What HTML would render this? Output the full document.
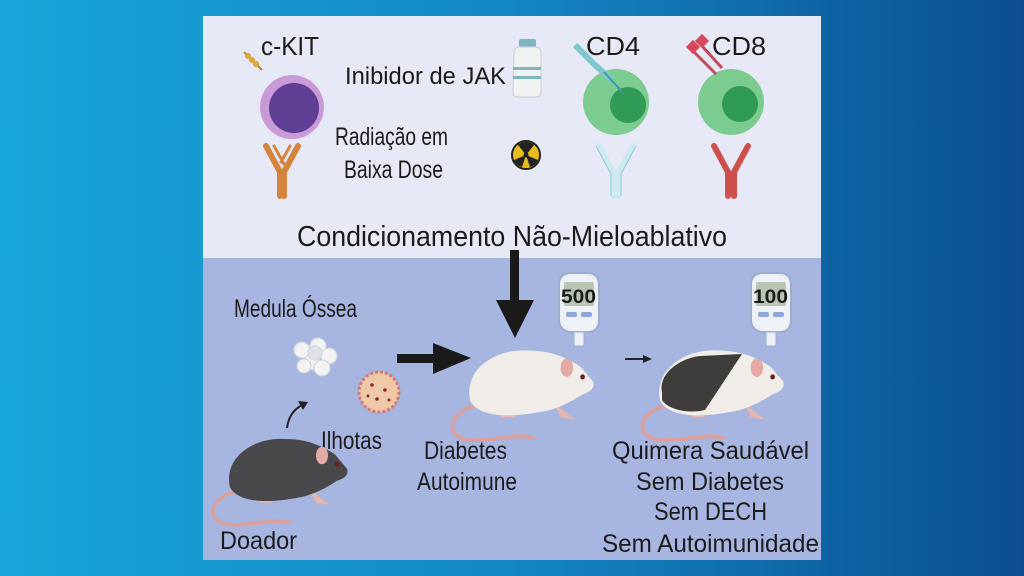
<!DOCTYPE html>
<html><head><meta charset="utf-8"><style>
html,body{margin:0;padding:0;width:1024px;height:576px;overflow:hidden}
body{background:linear-gradient(90deg,#17a7d8 0%,#1487c4 50%,#0b4f8f 100%)}
svg{position:absolute;left:0;top:0}
text{font-family:"Liberation Sans",sans-serif;fill:#1b1b1b}
</style></head><body>
<svg width="1024" height="576" viewBox="0 0 1024 576">
<defs>
<g id="mouse">
 <path d="M-50,18 C-78,24 -80,48 -52,48 C-30,48 -10,42 5,46" fill="none" stroke="#d9a2a0" stroke-width="3.5" stroke-linecap="round"/>
 <path d="M-20,18 l-6,10 l14,0 Z M25,16 l6,12 l14,2 Z" fill="#e8b4ae"/>
 <path d="M-55,14 C-62,-14 -30,-32 0,-30 C22,-30 36,-24 50,-16 L62,-3 C64,2 60,6 52,8 C42,14 34,18 20,22 C-10,28 -45,30 -55,14 Z"/>
 <ellipse cx="37" cy="-15" rx="6" ry="8" fill="#e6aaa6"/>
 <circle cx="52" cy="-7" r="2.2" fill="#6b1c1c"/>
</g>
</defs>
<rect x="203" y="16" width="618" height="242" fill="#e8e9f7"/>
<rect x="203" y="258" width="618" height="302" fill="#a6b6e0"/>

<text x="261" y="55" font-size="26" textLength="58" lengthAdjust="spacingAndGlyphs">c-KIT</text>
<path d="M244,52 L262,70" stroke="#b9892e" stroke-width="2"/>
<circle cx="248" cy="56" r="3" fill="#d9a536"/><circle cx="252" cy="60" r="3" fill="#d9a536"/><circle cx="256" cy="64" r="3" fill="#d9a536"/>
<circle cx="292" cy="107" r="32" fill="#c89bd8"/>
<circle cx="294" cy="108" r="25" fill="#5e3f93"/>
<g stroke="#d5843e" stroke-width="6" fill="none" stroke-linecap="round">
<path d="M266,146 L280,172 L280,196 M298,146 L284,172 L284,196"/>
<path d="M274,146 L284,164 M290,146 L281,162" stroke-width="3"/></g>

<text x="345" y="84" font-size="24" textLength="161" lengthAdjust="spacingAndGlyphs">Inibidor de JAK</text>
<rect x="519" y="39" width="17" height="8" rx="2" fill="#7fb5c0"/>
<path d="M514,52 Q514,47 520,47 L535,47 Q541,47 541,52 L541,92 Q541,97 536,97 L518,97 Q513,97 513,92 Z" fill="#f1f3f3" stroke="#c8d0d2"/>
<rect x="513" y="67" width="28" height="3" fill="#7fb5c0"/><rect x="513" y="76" width="28" height="3" fill="#7fb5c0"/>
<text x="335" y="145" font-size="25" textLength="113" lengthAdjust="spacingAndGlyphs">Radiação em</text>
<text x="344" y="178" font-size="25" textLength="99" lengthAdjust="spacingAndGlyphs">Baixa Dose</text>
<circle cx="526" cy="155" r="14" fill="#e9bd1a" stroke="#222" stroke-width="2"/>
<g fill="#222"><circle cx="526" cy="155" r="2.5"/>
<path d="M526,155 L518,145 A12,12 0 0 1 534,145 Z"/><path d="M526,155 L538,160 A12,12 0 0 1 530,167 Z"/><path d="M526,155 L522,167 A12,12 0 0 1 514,160 Z"/></g>

<text x="586" y="55" font-size="26" textLength="54" lengthAdjust="spacingAndGlyphs">CD4</text>
<circle cx="616" cy="102" r="33" fill="#7ccb91"/>
<circle cx="628" cy="105" r="18" fill="#2f9b57"/>
<path d="M575,45 L595,65 L612,80" stroke="#7fc6cf" stroke-width="6"/>
<path d="M604,72 L624,94" stroke="#3a9aa0" stroke-width="2"/>
<g stroke="#cdeaf0" stroke-width="6" fill="none" stroke-linecap="round">
<path d="M599,146 L613,172 L613,196 M633,146 L619,172 L619,196"/></g>
<g stroke="#8ec9d6" stroke-width="1" fill="none"><path d="M596,146 L611,174 L611,196 M636,146 L621,174 L621,196"/></g>

<text x="712" y="55" font-size="26" textLength="54" lengthAdjust="spacingAndGlyphs">CD8</text>
<circle cx="731" cy="102" r="33" fill="#7ccb91"/>
<circle cx="740" cy="104" r="18" fill="#2f9b57"/>
<path d="M694,52 L716,74 M702,46 L722,68" stroke="#c44a5a" stroke-width="3"/>
<rect x="688" y="42" width="10" height="10" fill="#d6485c" transform="rotate(45 693 47)"/>
<rect x="697" y="36" width="10" height="10" fill="#d6485c" transform="rotate(45 702 41)"/>
<g stroke="#cf4f4c" stroke-width="6" fill="none" stroke-linecap="round">
<path d="M714,146 L728,172 L728,196 M748,146 L734,172 L734,196"/></g>

<text x="297" y="246" font-size="29" textLength="430" lengthAdjust="spacingAndGlyphs">Condicionamento Não-Mieloablativo</text>

<rect x="510" y="250" width="9" height="52" fill="#1a1a1a"/>
<path d="M496,300 L534,300 L515,338 Z" fill="#1a1a1a"/>
<rect x="397" y="354" width="38" height="9" fill="#1a1a1a"/>
<path d="M433,343 L471,358 L433,374 Z" fill="#1a1a1a"/>
<path d="M625,359 L645,359" stroke="#222" stroke-width="2"/><path d="M643,355 L652,359 L643,363 Z" fill="#222"/>
<path d="M287,428 Q289,412 302,405" stroke="#222" stroke-width="2" fill="none"/><path d="M298,401 L308,402 L303,410 Z" fill="#222"/>

<text x="234" y="317" font-size="25" textLength="123" lengthAdjust="spacingAndGlyphs">Medula Óssea</text>
<g fill="#f3f3f3" stroke="#cfd3dc"><circle cx="302" cy="350" r="8"/><circle cx="318" cy="346" r="8"/><circle cx="329" cy="356" r="8"/><circle cx="312" cy="362" r="8"/><circle cx="322" cy="368" r="8"/><circle cx="304" cy="366" r="7"/><circle cx="315" cy="353" r="7" fill="#dfe2e8"/></g>
<circle cx="379" cy="392" r="20" fill="#f2c9a8" stroke="#d37a70" stroke-width="3" stroke-dasharray="3 2"/>
<g fill="#8b2c2c"><circle cx="372" cy="385" r="1.8"/><circle cx="385" cy="390" r="1.8"/><circle cx="377" cy="399" r="1.8"/><circle cx="389" cy="400" r="1.5"/><circle cx="368" cy="396" r="1.5"/></g>
<text x="321" y="449" font-size="25" textLength="61" lengthAdjust="spacingAndGlyphs">Ilhotas</text>
<g transform="translate(285,472) scale(1,1.1)" fill="#48484a"><use href="#mouse"/></g>
<text x="220" y="549" font-size="25" textLength="77" lengthAdjust="spacingAndGlyphs">Doador</text>

<g id="gm">
<path d="M559,285 Q559,273 571,273 L587,273 Q599,273 599,285 L599,320 Q599,330 590,332 L570,332 Q559,330 559,320 Z" fill="#eef2f8" stroke="#9aaed0" stroke-width="2"/>
<rect x="564" y="282" width="30" height="24" rx="2" fill="#b7c5b2"/>
<rect x="566" y="312" width="11" height="5" rx="2" fill="#8fa7d6"/><rect x="581" y="312" width="11" height="5" rx="2" fill="#8fa7d6"/>
<rect x="574" y="332" width="10" height="14" fill="#eef2f8" stroke="#9aaed0"/>
</g>
<text x="561" y="303" font-size="19" font-weight="bold" textLength="35" lengthAdjust="spacingAndGlyphs">500</text>
<g transform="translate(192,0)"><use href="#gm"/></g>
<text x="753" y="303" font-size="19" font-weight="bold" textLength="35" lengthAdjust="spacingAndGlyphs">100</text>

<g transform="translate(528,385) scale(1.05,1.15)" fill="#f1eeea"><use href="#mouse"/></g>
<g transform="translate(718,385) scale(1.05,1.15)" fill="#f1eeea"><use href="#mouse"/></g>
<path d="M662,392 C658,374 680,358 700,356 L742,354 L705,410 C690,414 668,410 662,400 Z" fill="#3e3d3b"/>

<text x="424" y="459" font-size="25" textLength="83" lengthAdjust="spacingAndGlyphs">Diabetes</text>
<text x="417" y="490" font-size="25" textLength="100" lengthAdjust="spacingAndGlyphs">Autoimune</text>
<text x="612" y="459" font-size="25" textLength="197" lengthAdjust="spacingAndGlyphs">Quimera Saudável</text>
<text x="636" y="490" font-size="25" textLength="148" lengthAdjust="spacingAndGlyphs">Sem Diabetes</text>
<text x="654" y="520" font-size="25" textLength="113" lengthAdjust="spacingAndGlyphs">Sem DECH</text>
<text x="602" y="552" font-size="25" textLength="217" lengthAdjust="spacingAndGlyphs">Sem Autoimunidade</text>
</svg>
</body></html>
